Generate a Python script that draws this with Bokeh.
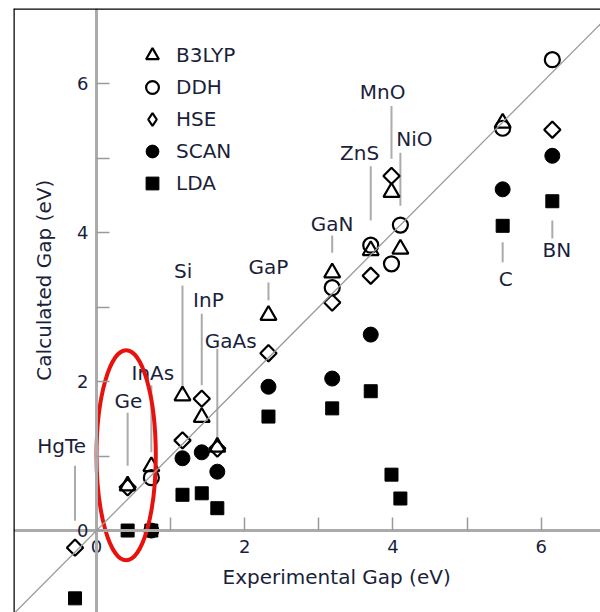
import math
import numpy as np
from bokeh.plotting import figure
from bokeh.models import (Range1d, FixedTicker, Slope, Span, Label, Legend, LegendItem,
                          ColumnDataSource)
from bokeh.core.properties import value
from bokeh.embed import file_html
from bokeh.resources import INLINE

# ---------------- data ----------------
materials = ["HgTe", "Ge", "InAs", "Si", "InP", "GaAs", "GaP", "GaN", "ZnS", "MnO", "NiO", "C", "BN"]
exp_gap   = [-0.29, 0.42, 0.74, 1.16, 1.42, 1.63, 2.32, 3.18, 3.70, 3.98, 4.10, 5.48, 6.15]

b3lyp = [None, 0.60, 0.86, 1.81, 1.52, 1.12, 2.89, 3.46, 3.76, 4.54, 3.78, 5.47, None]
ddh   = [None, None, 0.71, None, None, None, None, 3.26, 3.83, 3.58, 4.10, 5.40, 6.32]
hse   = [-0.23, 0.58, None, 1.21, 1.77, 1.10, 2.38, 3.06, 3.42, 4.76, None, None, 5.38]
scan  = [None, None, 0.0, 0.97, 1.05, 0.79, 1.93, 2.04, 2.63, None, None, 4.58, 5.03]
lda   = [-0.91, 0.0, 0.0, 0.48, 0.50, 0.30, 1.53, 1.64, 1.87, 0.75, 0.43, 4.09, 4.42]

# annotation placement (text centre and leader line extent, data units)
label_x      = [-0.47, 0.43, 0.76, 1.17, 1.51, 1.81, 2.32, 3.18, 3.55, 3.86, 4.29, 5.52, 6.21]
label_y      = [1.13, 1.74, 2.12, 3.48, 3.09, 2.55, 3.54, 4.11, 5.07, 5.88, 5.26, 3.37, 3.76]
leader_top   = [0.87, 1.58, 1.95, 3.29, 2.91, 2.44, 3.33, 3.96, 4.89, 5.70, 5.07, 3.87, 4.16]
leader_bot   = [0.13, 0.87, 1.05, 1.88, 1.95, 1.21, 3.09, 3.73, 4.16, 4.99, 4.36, 3.60, 3.92]

major_ticks = [0, 2, 4, 6]
minor_ticks = [1, 3, 5]

# red highlight ellipse (data units)
ell_x, ell_y, ell_w, ell_h = 0.40, 1.01, 0.80, 2.82

TEXT = "#1b1f3b"
FONT = "DejaVu Sans"
GREY = "#ababab"

p = figure(width=600, height=612, x_range=Range1d(-1.12, 6.80), y_range=Range1d(-1.10, 7.007),
           output_backend="svg", toolbar_location=None,
           min_border_left=13, min_border_top=8, min_border_right=0, min_border_bottom=0)
p.outline_line_color = None
p.grid.visible = False
p.background_fill_color = "white"
p.border_fill_color = "white"

for ax in (p.xaxis[0], p.yaxis[0]):
    ax.fixed_location = 0
    ax.ticker = FixedTicker(ticks=major_ticks, minor_ticks=minor_ticks)
    ax.axis_line_color = GREY
    ax.axis_line_width = 3
    ax.major_tick_line_color = "#9a9a9a"
    ax.minor_tick_line_color = "#9a9a9a"
    ax.major_tick_line_width = 1.5
    ax.minor_tick_line_width = 1.5
    ax.major_tick_in = 13
    ax.major_tick_out = 0
    ax.minor_tick_in = 13
    ax.minor_tick_out = 0
    ax.major_label_text_font = FONT
    ax.major_label_text_font_size = "18px"
    ax.major_label_text_color = TEXT
p.xaxis[0].major_label_standoff = 9
p.yaxis[0].major_label_standoff = 8

# frame edges (left & top visible in the crop)
p.add_layout(Span(location=-1.12, dimension="height", line_color="black", line_width=2.5))
p.add_layout(Span(location=7.007, dimension="width", line_color="black", line_width=2.5))

# y = x reference line
p.add_layout(Slope(gradient=1, y_intercept=0, line_color="#9a9a9a", line_width=1.3))

# leaders and labels
lab_src = ColumnDataSource(dict(name=materials, x=exp_gap, lx=label_x, ly=label_y,
                                y0=leader_top, y1=leader_bot))
p.segment(x0="x", x1="x", y0="y0", y1="y1", source=lab_src, line_color=GREY, line_width=2)
p.text(x="lx", y="ly", text="name", source=lab_src, text_font=value(FONT),
       text_font_size=value("20px"), text_color=TEXT, text_align="center", text_baseline="middle")

def src(vals):
    xs = [x for x, v in zip(exp_gap, vals) if v is not None]
    ys = [v for v in vals if v is not None]
    return ColumnDataSource(dict(x=xs, y=ys))

r_b3 = p.scatter("x", "y", source=src(b3lyp), marker="triangle", size=16,
                 fill_color=None, line_color="black", line_width=2.2)
r_ddh = p.scatter("x", "y", source=src(ddh), marker="circle", size=15,
                  fill_color=None, line_color="black", line_width=2.2)
r_hse = p.scatter("x", "y", source=src(hse), marker="square", angle=math.pi / 4, size=11.5,
                  fill_color=None, line_color="black", line_width=2.2)
r_scan = p.scatter("x", "y", source=src(scan), marker="circle", size=15,
                   fill_color="black", line_color="black", line_width=1)
r_lda = p.scatter("x", "y", source=src(lda), marker="square", size=13,
                  fill_color="black", line_color="black", line_width=1)

# legend key for HSE (legend keys ignore marker rotation, so use a diamond key;
# its single NaN point draws nothing in the plot)
key_src = ColumnDataSource(dict(x=np.array([np.nan]), y=np.array([np.nan])))
r_hse_key = p.scatter("x", "y", source=key_src, marker="diamond", size=15,
                      fill_color=None, line_color="black", line_width=2.2)

p.ellipse(x=[ell_x], y=[ell_y], width=[ell_w], height=[ell_h], fill_color=None,
          line_color="#e8120c", line_width=4)

legend = Legend(items=[LegendItem(label="B3LYP", renderers=[r_b3]),
                       LegendItem(label="DDH", renderers=[r_ddh]),
                       LegendItem(label="HSE", renderers=[r_hse_key]),
                       LegendItem(label="SCAN", renderers=[r_scan]),
                       LegendItem(label="LDA", renderers=[r_lda])],
                location=(123, 413), orientation="vertical",
                glyph_width=32, glyph_height=32, label_height=32, label_standoff=8,
                spacing=0, padding=0, margin=0, border_line_color=None,
                background_fill_alpha=0, label_text_font=FONT,
                label_text_font_size="20px", label_text_color=TEXT)
p.add_layout(legend)

p.add_layout(Label(x=3.24, y=-0.62, text="Experimental Gap (eV)", text_font=FONT,
                   text_font_size="20px", text_color=TEXT, text_align="center",
                   text_baseline="middle"))
p.add_layout(Label(x=-0.715, y=3.36, text="Calculated Gap (eV)", text_font=FONT,
                   text_font_size="20px", text_color=TEXT, text_align="center",
                   text_baseline="middle", angle=math.pi / 2))

open("out.html", "w").write(file_html(p, INLINE))
